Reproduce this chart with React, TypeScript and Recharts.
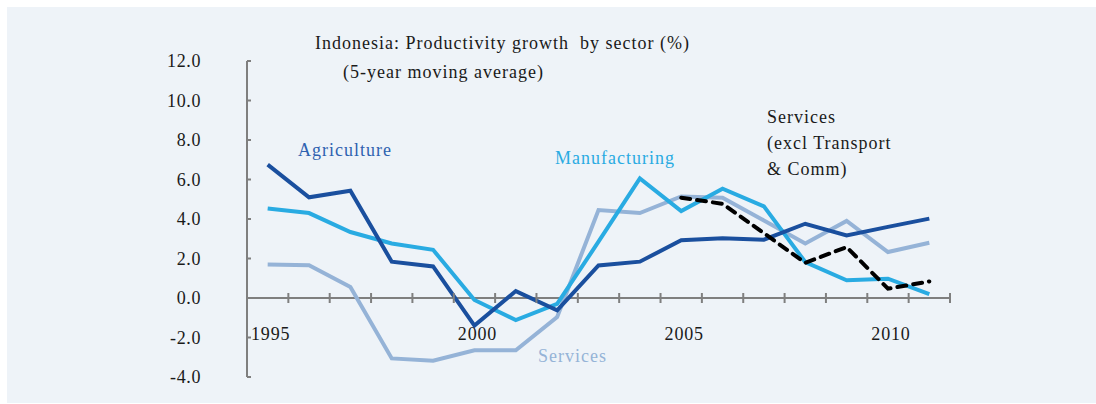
import { LineChart, Line, XAxis, YAxis, ReferenceLine } from "recharts";

const years = [
  "1995", "1996", "1997", "1998", "1999", "2000", "2001", "2002", "2003",
  "2004", "2005", "2006", "2007", "2008", "2009", "2010", "2011"
];
const labelledYears = ["1995", "2000", "2005", "2010"];
const yTicks = [-4, -2, 0, 2, 4, 6, 8, 10, 12];

const agriculture = [6.75, 5.1, 5.43, 1.84, 1.6, -1.4, 0.35, -0.62, 1.65, 1.84, 2.92, 3.02, 2.95, 3.76, 3.17, 3.6, 4.02];
const manufacturing = [4.53, 4.3, 3.34, 2.76, 2.44, -0.1, -1.12, -0.3, 2.85, 6.05, 4.4, 5.53, 4.64, 1.82, 0.9, 0.98, 0.2];
const services = [1.7, 1.66, 0.56, -3.06, -3.18, -2.65, -2.65, -0.96, 4.45, 4.3, 5.14, 5.08, 3.93, 2.76, 3.9, 2.33, 2.8];
const servicesExcl = [null, null, null, null, null, null, null, null, null, null, 5.08, 4.77, 3.28, 1.78, 2.58, 0.47, 0.84];

const data = years.map((year, i) => ({
  year,
  agriculture: agriculture[i],
  manufacturing: manufacturing[i],
  services: services[i],
  servicesExcl: servicesExcl[i]
}));

const W = 1096;
const H = 404;
const TOP = 61;
const LEFT = 247;
const PLOT_W = 703;
const PLOT_H = 316;
const BAND = PLOT_W / years.length;
const ZERO_Y = TOP + (PLOT_H * 12) / 16;
const FONT = '"Liberation Serif", "Times New Roman", serif';
const AXIS = "#7f7f7f";

function XTick(props: any) {
  const { x, index, payload } = props;
  const left = x - BAND / 2;
  return (
    <g>
      <line x1={left} x2={left} y1={ZERO_Y - 5} y2={ZERO_Y + 5} stroke={AXIS} strokeWidth={2} />
      {index === years.length - 1 && (
        <line x1={x + BAND / 2} x2={x + BAND / 2} y1={ZERO_Y - 5} y2={ZERO_Y + 5} stroke={AXIS} strokeWidth={2} />
      )}
      {labelledYears.includes(payload.value) && (
        <text x={x + 3} y={ZERO_Y + 42} textAnchor="middle" fontSize={18} letterSpacing={0.8} fill="#1a1a1a" fontFamily={FONT}>
          {payload.value}
        </text>
      )}
    </g>
  );
}

function YTick(props: any) {
  const { y, payload } = props;
  return (
    <g>
      <line x1={LEFT} x2={LEFT + 4} y1={y} y2={y} stroke={AXIS} strokeWidth={2} />
      <text x={201} y={y} dy="0.35em" textAnchor="end" fontSize={18} letterSpacing={0.6} fill="#1a1a1a" fontFamily={FONT}>
        {payload.value.toFixed(1)}
      </text>
    </g>
  );
}

const txt = (left: number, top: number, color: string, lines: string[]) => (
  <div
    style={{
      position: "absolute",
      left,
      top,
      color,
      fontFamily: FONT,
      fontSize: 18,
      letterSpacing: 1,
      lineHeight: "26px",
      whiteSpace: "pre"
    }}
  >
    {lines.map((l) => (
      <div key={l}>{l}</div>
    ))}
  </div>
);

export default function App() {
  return (
    <div style={{ position: "absolute", left: 0, top: 0, width: W, height: H, background: "#fff", overflow: "hidden" }}>
      <div style={{ position: "absolute", left: 7, top: 7, width: W - 7, height: H - 8, background: "#eef3f8" }} />
      <div style={{ position: "absolute", left: 0, top: 0 }}>
        <LineChart width={W} height={H} data={data} margin={{ top: TOP, right: W - LEFT - PLOT_W, bottom: 0, left: LEFT - 47 }}>
          <XAxis
            dataKey="year"
            interval={0}
            height={27}
            axisLine={false}
            tickLine={false}
            padding={{ left: BAND / 2, right: BAND / 2 }}
            tick={<XTick />}
          />
          <YAxis
            width={47}
            domain={[-4, 12]}
            ticks={yTicks}
            interval={0}
            axisLine={{ stroke: AXIS, strokeWidth: 2 }}
            tickLine={false}
            tick={<YTick />}
          />
          <ReferenceLine y={0} stroke={AXIS} strokeWidth={2} />
          <Line dataKey="services" stroke="#95b3d7" strokeWidth={4} dot={false} isAnimationActive={false} />
          <Line dataKey="manufacturing" stroke="#29abe2" strokeWidth={4} dot={false} isAnimationActive={false} />
          <Line dataKey="agriculture" stroke="#1a4f9e" strokeWidth={4} dot={false} isAnimationActive={false} />
          <Line
            dataKey="servicesExcl"
            stroke="#000"
            strokeWidth={4}
            strokeDasharray="9 7"
            strokeLinecap="round"
            dot={false}
            connectNulls={false}
            isAnimationActive={false}
          />
        </LineChart>
      </div>
      {txt(315, 30, "#1a1a1a", ["Indonesia: Productivity growth  by sector (%)"])}
      {txt(343, 59, "#1a1a1a", ["(5-year moving average)"])}
      {txt(298, 137, "#2e62b0", ["Agriculture"])}
      {txt(555, 145, "#29abe2", ["Manufacturing"])}
      {txt(538, 343, "#95b3d7", ["Services"])}
      {txt(767, 104, "#1a1a1a", ["Services", "(excl Transport", "& Comm)"])}
    </div>
  );
}
